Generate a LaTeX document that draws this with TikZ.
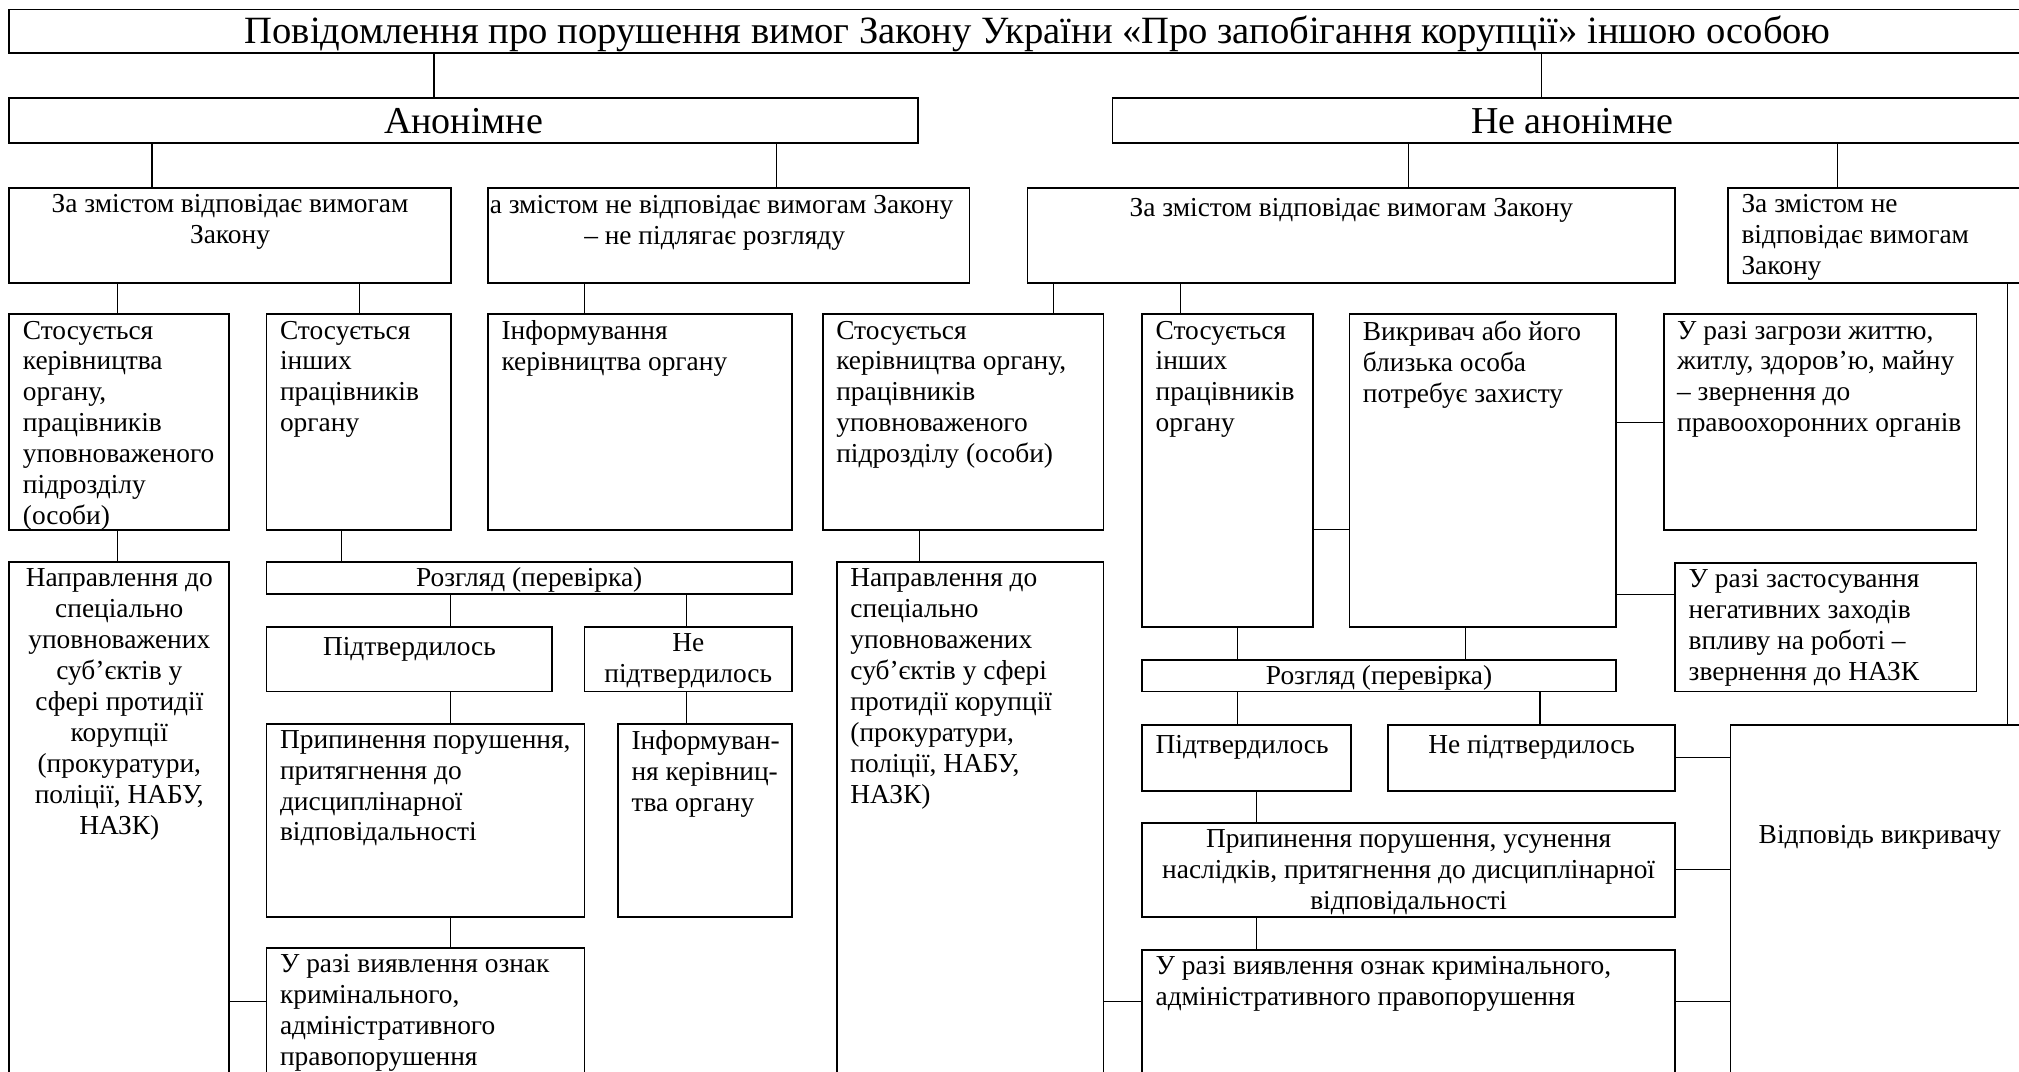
\documentclass[tikz,border=0pt]{standalone}
\usepackage{fontspec}
\setmainfont{Liberation Serif}
\usepackage{tikz}
\usetikzlibrary{fit}
\newcommand{\bodyf}{\fontsize{13.7}{15.45}\selectfont}
\newcommand{\headf}{\fontsize{19}{22}\selectfont}
\tikzset{
  box/.style={draw=black,line width=0.9pt,inner sep=0pt},
  ln/.style={line width=0.6pt},
  txtl/.style={anchor=north west,align=left,inner xsep=7pt,inner ysep=3.6pt,
    font=\bodyf,execute at begin node=\strut},
  txtc/.style={anchor=north,align=center,inner xsep=0pt,inner ysep=3.6pt,
    font=\bodyf,execute at begin node=\strut},
  head/.style={anchor=base,font=\headf,inner sep=0pt},
}
% box from its two corners
\newcommand{\bx}[5]{\node[box,fit={(#2,#3) (#4,#5)}] (#1) {};}

\begin{document}
\begin{tikzpicture}[x=0.6438pt,y=-0.6438pt]
  \useasboundingbox (0,0) rectangle (1568,832);
  \clip (0,0) rectangle (1568,832);

  % top levels
  \bx{ttl}{7.3}{7.3}{1605}{41.4}
  \bx{anon}{7.3}{76}{713}{111}
  \bx{nonanon}{864}{76}{1578}{111}
  \node[head,font=\fontsize{19.3}{22}\selectfont] (ttlt) at (806,33.8) {Повідомлення про порушення вимог Закону України «Про запобігання корупції» іншою особою};
  \node[head] (anont) at (360,103.5) {Анонімне};
  \node[head] (nonanont) at (1221,103.5) {Не анонімне};

  \bx{a1}{7.3}{146}{350}{219.6}
  \bx{a2}{379}{146}{753}{219.6}
  \bx{n1}{798}{146}{1301}{219.6}
  \bx{n2}{1342}{146}{1580}{219.6}
  \node[txtc] (a1t) at (a1.north) {За змістом відповідає вимогам\\Закону};
  \begin{scope}
    \clip (a2.south west) rectangle (a2.north east);
    \node[txtc] (a2t) at (555,146) {За змістом не відповідає вимогам Закону\\– не підлягає розгляду};
  \end{scope}
  \node[txtc] (n1t) at (n1.north) {За змістом відповідає вимогам Закону};
  \node[txtl] (n2t) at (n2.north west) {За змістом не\\відповідає вимогам\\Закону};

  % anonymous branch
  \bx{b1}{7.3}{244}{178}{411.6}
  \bx{b2}{207}{244}{350}{411.6}
  \bx{b3}{379}{244}{615}{411.6}
  \bx{d1}{7.3}{436.6}{178}{850}
  \bx{r1}{207}{436.6}{615}{461}
  \bx{p1}{207}{487}{429}{537}
  \bx{np1}{454}{487}{615}{537}
  \bx{q1}{207}{562}{454}{712}
  \bx{inf}{480}{562}{615}{712}
  \bx{s1}{207}{736}{454}{850}
  \node[txtl] (b1t) at (b1.north west) {Стосується\\керівництва\\органу,\\працівників\\уповноваженого\\підрозділу\\(особи)};
  \node[txtl] (b2t) at (b2.north west) {Стосується\\інших\\працівників\\органу};
  \node[txtl] (b3t) at (b3.north west) {Інформування\\керівництва органу};
  \node[txtc] (d1t) at (d1.north) {Направлення до\\спеціально\\уповноважених\\суб’єктів у\\сфері протидії\\корупції\\(прокуратури,\\поліції, НАБУ,\\НАЗК)};
  \node[txtc,inner ysep=1.5pt] (r1t) at (r1.north) {Розгляд (перевірка)};
  \node[txtc] (p1t) at (p1.north) {Підтвердилось};
  \node[txtc] (np1t) at (np1.north) {Не\\підтвердилось};
  \node[txtl] (q1t) at (q1.north west) {Припинення порушення,\\притягнення до\\дисциплінарної\\відповідальності};
  \node[txtl] (inft) at (inf.north west) {Інформуван-\\ня керівниц-\\тва органу};
  \node[txtl] (s1t) at (s1.north west) {У разі виявлення ознак\\кримінального,\\адміністративного\\правопорушення};

  % named branch
  \bx{b4}{639}{244}{857}{411.6}
  \bx{d2}{650}{436.6}{857}{850}
  \bx{c1}{887}{244}{1020}{487}
  \bx{c2}{1048}{244}{1255}{487}
  \bx{c3}{1292}{244}{1535}{411.6}
  \bx{c4}{1301}{437}{1535}{537}
  \bx{r2}{887}{512.6}{1255}{537}
  \bx{p2}{887}{563}{1049}{614}
  \bx{np2}{1078}{563}{1301}{614}
  \bx{q2}{887}{639}{1301}{712}
  \bx{s2}{887}{737.8}{1301}{850}
  \bx{vid}{1344}{563}{1577}{850}
  \node[txtl] (b4t) at (b4.north west) {Стосується\\керівництва органу,\\працівників\\уповноваженого\\підрозділу (особи)};
  \node[txtl] (d2t) at (d2.north west) {Направлення до\\спеціально\\уповноважених\\суб’єктів у сфері\\протидії корупції\\(прокуратури,\\поліції, НАБУ,\\НАЗК)};
  \node[txtl] (c1t) at (c1.north west) {Стосується\\інших\\працівників\\органу};
  \node[txtl] (c2t) at (c2.north west) {Викривач або його\\близька особа\\потребує захисту};
  \node[txtl] (c3t) at (c3.north west) {У разі загрози життю,\\житлу, здоров’ю, майну\\– звернення до\\правоохоронних органів};
  \node[txtl] (c4t) at (c4.north west) {У разі застосування\\негативних заходів\\впливу на роботі –\\звернення до НАЗК};
  \node[txtc,inner ysep=1.5pt] (r2t) at (r2.north) {Розгляд (перевірка)};
  \node[txtl] (p2t) at (p2.north west) {Підтвердилось};
  \node[txtc] (np2t) at (np2.north) {Не підтвердилось};
  \node[txtc] (q2t) at (q2.north) {Припинення порушення, усунення\\наслідків, притягнення до дисциплінарної\\відповідальності};
  \node[txtl] (s2t) at (s2.north west) {У разі виявлення ознак кримінального,\\адміністративного правопорушення};
  \node[anchor=base,font=\bodyf] (vidt) at (1460,655) {Відповідь викривачу};

  % connectors
  \draw[ln] (337,0 |- ttl.south) -- (337,0 |- anon.north);
  \draw[ln] (1197,0 |- ttl.south) -- (1197,0 |- nonanon.north);
  \draw[ln] (118,0 |- anon.south) -- (118,0 |- a1.north);
  \draw[ln] (603,0 |- anon.south) -- (603,0 |- a2.north);
  \draw[ln] (1094,0 |- nonanon.south) -- (1094,0 |- n1.north);
  \draw[ln] (1427,0 |- nonanon.south) -- (1427,0 |- n2.north);
  \draw[ln] (91,0 |- a1.south) -- (91,0 |- b1.north);
  \draw[ln] (279,0 |- a1.south) -- (279,0 |- b2.north);
  \draw[ln] (454,0 |- a2.south) -- (454,0 |- b3.north);
  \draw[ln] (818,0 |- n1.south) -- (818,0 |- b4.north);
  \draw[ln] (917,0 |- n1.south) -- (917,0 |- c1.north);
  \draw[ln] (91,0 |- b1.south) -- (91,0 |- d1.north);
  \draw[ln] (265,0 |- b2.south) -- (265,0 |- r1.north);
  \draw[ln] (714,0 |- b4.south) -- (714,0 |- d2.north);
  \draw[ln] (350,0 |- r1.south) -- (350,0 |- p1.north);
  \draw[ln] (533,0 |- r1.south) -- (533,0 |- np1.north);
  \draw[ln] (350,0 |- p1.south) -- (350,0 |- q1.north);
  \draw[ln] (533,0 |- np1.south) -- (533,0 |- inf.north);
  \draw[ln] (350,0 |- q1.south) -- (350,0 |- s1.north);
  \draw[ln] (d1.east |- 0,778) -- (s1.west |- 0,778);
  \draw[ln] (c1.east |- 0,411) -- (c2.west |- 0,411);
  \draw[ln] (c2.east |- 0,328) -- (c3.west |- 0,328);
  \draw[ln] (c2.east |- 0,462) -- (c4.west |- 0,462);
  \draw[ln] (961,0 |- c1.south) -- (961,0 |- r2.north);
  \draw[ln] (1138,0 |- c2.south) -- (1138,0 |- r2.north);
  \draw[ln] (961,0 |- r2.south) -- (961,0 |- p2.north);
  \draw[ln] (1196,0 |- r2.south) -- (1196,0 |- np2.north);
  \draw[ln] (976,0 |- p2.south) -- (976,0 |- q2.north);
  \draw[ln] (976,0 |- q2.south) -- (976,0 |- s2.north);
  \draw[ln] (d2.east |- 0,778) -- (s2.west |- 0,778);
  \draw[ln] (s2.east |- 0,778) -- (vid.west |- 0,778);
  \draw[ln] (np2.east |- 0,588) -- (vid.west |- 0,588);
  \draw[ln] (q2.east |- 0,675) -- (vid.west |- 0,675);
  \draw[ln] (1559,0 |- n2.south) -- (1559,0 |- vid.north);
\end{tikzpicture}
\end{document}
